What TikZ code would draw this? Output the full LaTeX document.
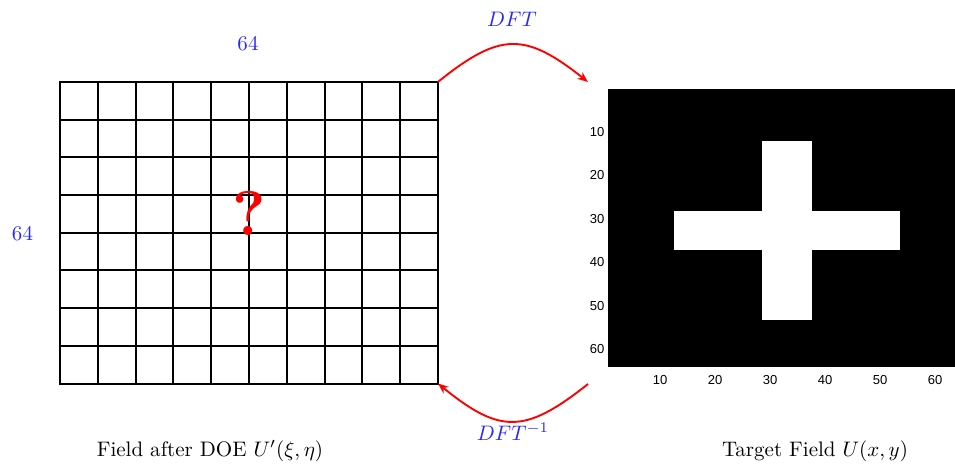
\documentclass[tikz,border=0pt]{standalone}
\usepackage{fontspec}
\newfontfamily\axisfont{Liberation Sans}
\definecolor{labelblue}{HTML}{2828F8}
\usepackage{tikz}
\usetikzlibrary{arrows.meta}

\begin{document}
\begin{tikzpicture}[x=0.476pt,y=-0.476pt,>=Stealth,
  gridline/.style={black,line width=0.95pt},
  fftarrow/.style={red,line width=0.9pt,-{Stealth[length=5pt,width=4pt]}},
  dimlabel/.style={text=labelblue,inner sep=0pt},
  ticklabel/.style={font=\axisfont\fontsize{6.2}{7}\selectfont,inner sep=0pt},
  caption/.style={anchor=base,inner sep=0pt}]
\useasboundingbox (0,0) rectangle (955,474);
% field after DOE: 10 x 8 cells
\foreach \i in {0,...,10} \draw[gridline] (60+\i*37.8,81.9) -- (60+\i*37.8,383.5);
\foreach \j in {0,...,8} \draw[gridline] (60,81.9+\j*37.7) -- (438,81.9+\j*37.7);
\draw[gridline] (60,81.9) rectangle (438,383.5);
\coordinate (fieldNE) at (438,81.9);
\coordinate (fieldSE) at (438,383.5);
\node[red,inner sep=0pt,font=\fontsize{30}{30}\selectfont\bfseries] (unknown) at (249.5,213.5) {?};
\node[dimlabel] (cols) at (248,44) {64};
\node[dimlabel] (rows) at (22.5,233.5) {64};
% target field
\fill[black] (608,89) rectangle (955,367);
\fill[white] (762,141) rectangle (812,320);
\fill[white] (674,211) rectangle (900,250);
\foreach \v in {10,20,...,60} {
  \node[ticklabel] (xt\v) at ({605+\v*5.5},380) {\v};
  \node[ticklabel] (yt\v) at (597,{88.6+\v*4.34}) {\v};
}
\coordinate (dftEnd) at (588,82);
\coordinate (idftStart) at (588,384);
% transforms
\draw[fftarrow] (fieldNE) .. controls (500,32) and (525,32) .. (dftEnd);
\draw[fftarrow] (idftStart) .. controls (525,434) and (500,434) .. (fieldSE);
\node[dimlabel] (dft) at (512,19) {$DFT$};
\node[dimlabel] (idft) at (513,432) {$DFT^{-1}$};
\node[caption] (fieldcap) at (210,456) {Field after DOE $U'(\xi,\eta)$};
\node[caption] (targetcap) at (815,456) {Target Field $U(x,y)$};
\end{tikzpicture}
\end{document}
